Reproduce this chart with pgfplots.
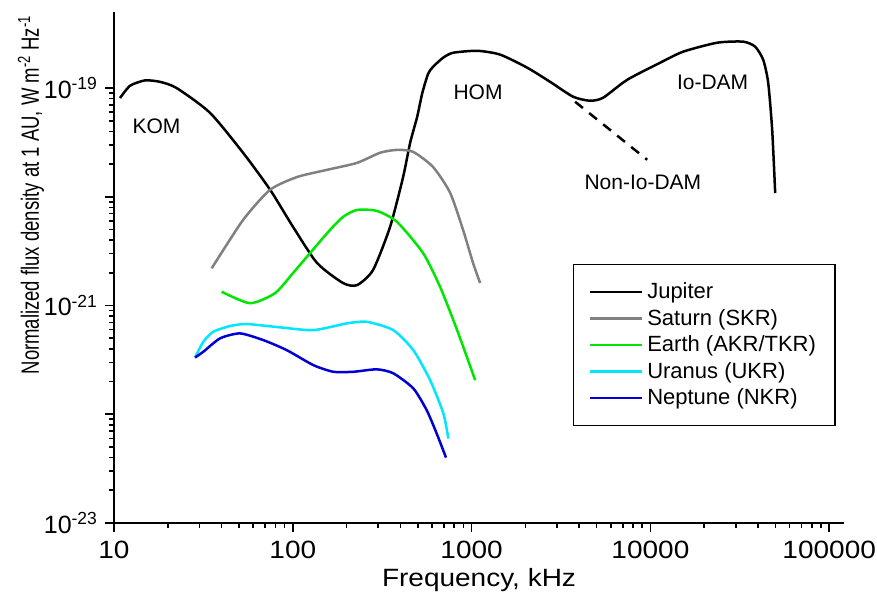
\documentclass[border=0pt]{standalone}
\usepackage{fontspec}
\setmainfont{Liberation Sans}
\newfontfamily\xfont{Liberation Sans}[FakeStretch=1.12]
\usepackage{pgfplots}
\pgfplotsset{compat=1.18}
\definecolor{sgray}{RGB}{128,128,128}
\definecolor{egreen}{RGB}{0,230,0}
\definecolor{ucyan}{RGB}{0,230,255}
\definecolor{nblue}{RGB}{0,0,210}
\begin{document}
\begin{tikzpicture}
\useasboundingbox (-57pt,-37.5pt) rectangle (381.5pt,261.5pt);
\begin{axis}[
  at={(0,0)}, anchor=south west,
  scale only axis, width=365pt, height=255.5pt,
  xmode=log, ymode=log,
  xmin=10, xmax=121000, ymin=1e-23, ymax=5e-19,
  axis x line=bottom, axis y line=left,
  axis line style={-, line width=1pt},
  tick align=outside,
  major tick length=4.5pt, minor tick length=2.5pt,
  every tick/.style={black, line width=0.8pt},
  xtick={10,100,1000,10000,100000},
  xticklabels={10,100,1000,10000,100000},
  ytick={1e-23,1e-22,1e-21,1e-20,1e-19},
  yticklabels={10\textsuperscript{-23},,10\textsuperscript{-21},,10\textsuperscript{-19}},
  yticklabel style={font=\fontsize{12.5}{15}\selectfont},
  xticklabel style={font=\xfont\fontsize{12.5}{15}\selectfont, yshift=-1pt},
  xlabel={Frequency, kHz},
  ylabel={\scalebox{0.74}[1]{Normalized flux density at 1 AU, W m\textsuperscript{-2} Hz\textsuperscript{-1}}},
  xlabel style={font=\xfont\fontsize{12.5}{15}\selectfont, at={(axis description cs:0.5,-0.1115)}, anchor=center},
  ylabel style={font=\fontsize{12.5}{15}\selectfont, at={(axis description cs:-0.1137,0.642)}, anchor=center},
  legend style={at={(rel axis cs:0.629,0.507)}, anchor=north west, draw=black, line width=0.6pt,
    font=\fontsize{11}{13}\selectfont, inner xsep=7.5pt, inner ysep=7pt, row sep=-0.2pt},
  legend cell align=left,
  legend image code/.code={\draw[#1] (0pt,0pt) -- (26pt,0pt);},
]
\addplot[black, line width=1.25pt, smooth, tension=0.4] coordinates {
(10.8,8.09e-20) (12.3,1.05e-19) (14.9,1.175e-19) (18.1,1.14e-19) (22.4,1.0e-19)
(34.4,5.93e-20) (52.7,2.54e-20) (74.7,1.16e-20) (100.3,5.29e-21) (136.7,2.46e-21)
(191,1.61e-21) (228.6,1.54e-21) (281,2.12e-21) (350,5.29e-21) (414,1.52e-20)
(453,3.13e-20) (496,5.43e-20) (530,9.0e-20) (571,1.35e-19) (609,1.57e-19) (693,1.90e-19)
(788,2.11e-19) (1075,2.20e-19) (1443,2.03e-19) (2045,1.54e-19) (2749,1.14e-19) (3697,8.32e-20)
(4603,7.64e-20) (5443,8.15e-20) (7413,1.19e-19) (11340,1.71e-19) (15250,2.16e-19)
(23620,2.61e-19) (33020,2.67e-19) (38540,2.40e-19) (42740,1.82e-19) (45580,1.12e-19)
(47980,4.12e-20) (49880,1.08e-20)
};
\addlegendentry{Jupiter}
\addplot[sgray, line width=1.25pt, smooth, tension=0.4] coordinates {
(35.2,2.20e-21) (52.7,6.12e-21) (74.7,1.16e-20) (105.7,1.52e-20) (155.6,1.77e-20)
(228.6,2.05e-20) (307.6,2.54e-20) (383,2.70e-20) (471,2.59e-20) (609,1.88e-20)
(758,1.09e-20) (896,4.96e-21) (1019,2.46e-21) (1116,1.61e-21)
};
\addlegendentry{Saturn (SKR)}
\addplot[egreen, line width=1.25pt, smooth, tension=0.4] coordinates {
(40.0,1.34e-21) (57.7,1.05e-21) (79.6,1.30e-21) (100.3,1.99e-21) (125,3.04e-21)
(161.6,4.96e-21) (191,6.53e-21) (228.6,7.57e-21) (296,7.41e-21) (383,5.87e-21)
(535,3.04e-21) (667,1.48e-21) (830,5.94e-22) (1047,2.06e-22)
};
\addlegendentry{Earth (AKR/TKR)}
\addplot[ucyan, line width=1.25pt, smooth, tension=0.4] coordinates {
(28.4,3.33e-22) (31.6,4.64e-22) (35.9,5.74e-22) (44.6,6.48e-22) (55.2,6.76e-22)
(84.9,6.30e-22) (130.4,5.94e-22) (200.5,6.85e-22) (259.4,7.09e-22) (365,5.94e-22)
(472,3.89e-22) (586,2.06e-22) (695,1.02e-22) (741,5.98e-23)
};
\addlegendentry{Uranus (UKR)}
\addplot[nblue, line width=1.25pt, smooth, tension=0.4] coordinates {
(28.4,3.33e-22) (31.6,3.76e-22) (39.2,4.99e-22) (50.7,5.54e-22) (68.4,4.81e-22)
(92.5,3.89e-22) (130.4,2.83e-22) (168.7,2.46e-22) (218.3,2.46e-22) (295,2.59e-22)
(365,2.38e-22) (472,1.73e-22) (561,1.09e-22) (638,6.65e-23) (719,4.00e-23)
};
\addlegendentry{Neptune (NKR)}
\addplot[black, line width=1.25pt, dash pattern=on 5pt off 4pt, forget plot] coordinates {
(3793,7.48e-20) (9590,2.19e-20)
};
\node[font=\fontsize{10.5}{12}\selectfont] at (axis cs:17.3,4.43e-20) {KOM};
\node[font=\fontsize{10.5}{12}\selectfont] at (axis cs:1086,9.15e-20) {HOM};
\node[font=\fontsize{10.5}{12}\selectfont] at (axis cs:22290,1.12e-19) {Io-DAM};
\node[font=\fontsize{10.5}{12}\selectfont] at (axis cs:9078,1.37e-20) {Non-Io-DAM};
\end{axis}
\end{tikzpicture}
\end{document}
